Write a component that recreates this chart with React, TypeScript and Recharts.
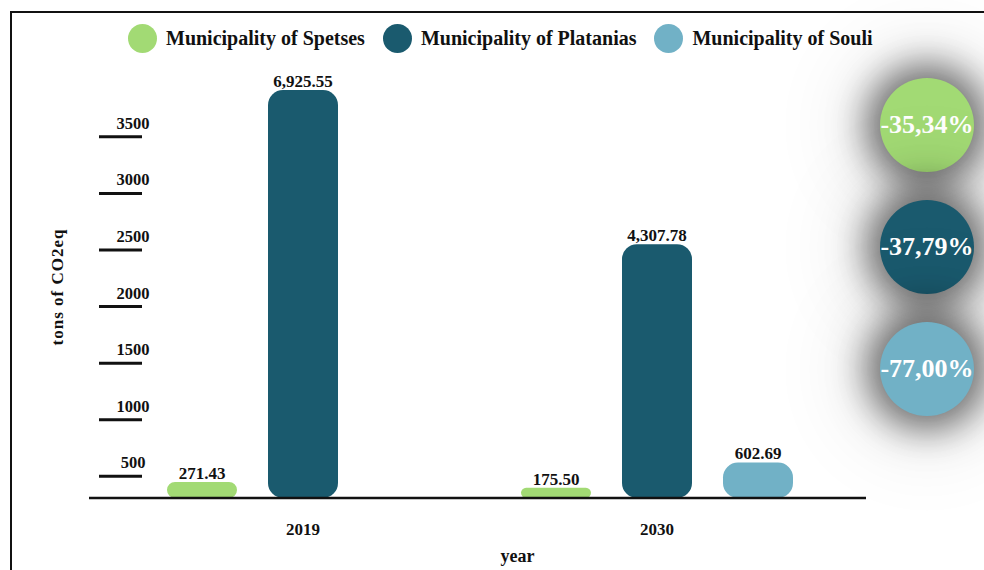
import { Bar, BarChart, XAxis, YAxis, LabelList, Label } from "recharts"

// emissions per municipality, tons of CO2eq
const years = ["2019", "2030"]
const spetses = [271.43, 175.5]
const platanias = [6925.55, 4307.78]
const souli: (number | null)[] = [null, 602.69]

const municipalities = ["Municipality of Spetses", "Municipality of Platanias", "Municipality of Souli"]
const changeLabels = ["-35,34%", "-37,79%", "-77,00%"]
const scaleTicks = [500, 1000, 1500, 2000, 2500, 3000, 3500]

const colors = ["#a2da74", "#1a5a6e", "#71b1c6"]
const serif = "'Liberation Serif', 'Times New Roman', serif"
const ink = "#111"

const rows = years.map((year, i) => ({
  year,
  spetses: spetses[i],
  platanias: platanias[i],
  souli: souli[i]
}))

const fmt = (v: any) =>
  v == null ? "" : Number(v).toLocaleString("en-US", { minimumFractionDigits: 2, maximumFractionDigits: 2 })

/* ---------- left scale: short rule with the number sitting on it ---------- */

function ScaleTick({ y, payload }: any) {
  return (
    <g>
      <line x1={99} x2={142} y1={y} y2={y} stroke={ink} strokeWidth={3} />
      <text x={133} y={y - 8} textAnchor="middle" fontFamily={serif} fontWeight="bold" fontSize={16.5} fill={ink}>
        {payload.value}
      </text>
    </g>
  )
}

function YearTick({ x, y, payload }: any) {
  return (
    <text x={x} y={y + 29} textAnchor="middle" fontFamily={serif} fontWeight="bold" fontSize={17} fill={ink}>
      {payload.value}
    </text>
  )
}

/* ---------- legend across the top ---------- */

function TopLegend() {
  return (
    <div
      style={{
        position: "absolute",
        top: 24,
        left: 128,
        display: "flex",
        alignItems: "center",
        fontFamily: serif,
        fontWeight: "bold",
        fontSize: 20,
        color: ink
      }}
    >
      {municipalities.map((name, i) => (
        <div key={name} style={{ display: "flex", alignItems: "center", marginRight: 18 }}>
          <span
            style={{
              width: 29,
              height: 29,
              borderRadius: "50%",
              background: colors[i],
              marginRight: 9,
              display: "inline-block"
            }}
          />
          <span>{name}</span>
        </div>
      ))}
    </div>
  )
}

/* ---------- change badges on the right ---------- */

function ChangeBadges() {
  return (
    <div
      style={{
        position: "absolute",
        top: 78,
        left: 880,
        display: "flex",
        flexDirection: "column",
        gap: 28
      }}
    >
      {changeLabels.map((txt, i) => (
        <div
          key={txt}
          style={{
            width: 94,
            height: 94,
            borderRadius: "50%",
            background: colors[i],
            boxShadow: "0 0 36px 14px rgba(0,0,0,0.55), 0 0 80px 40px rgba(0,0,0,0.07)",
            display: "flex",
            alignItems: "center",
            justifyContent: "center",
            color: "#fff",
            fontFamily: serif,
            fontWeight: "bold",
            fontSize: 26,
            whiteSpace: "nowrap"
          }}
        >
          {txt}
        </div>
      ))}
    </div>
  )
}

export default function App() {
  return (
    <div
      style={{
        position: "fixed",
        top: 0,
        left: 0,
        width: 984,
        height: 570,
        background: "#fff",
        overflow: "hidden"
      }}
    >
      <div
        style={{
          position: "absolute",
          top: 11,
          left: 10,
          width: 1100,
          height: 700,
          border: `2px solid ${ink}`
        }}
      />
      <BarChart
        width={984}
        height={570}
        data={rows}
        margin={{ top: 90, right: 118, bottom: 42, left: 9 }}
        barSize={70}
        barGap={31}
      >
        <XAxis
          dataKey="year"
          height={30}
          padding={{ left: 37, right: 32 }}
          axisLine={{ stroke: ink, strokeWidth: 2.5 }}
          tickLine={false}
          tick={<YearTick />}
        >
          <Label
            value="year"
            position="bottom"
            offset={21}
            dx={40}
            style={{ fontFamily: serif, fontWeight: "bold", fontSize: 18, fill: ink }}
          />
        </XAxis>
        <YAxis
          yAxisId="scale"
          type="number"
          width={80}
          domain={[308, 3914]}
          allowDataOverflow
          ticks={scaleTicks}
          axisLine={false}
          tickLine={false}
          tick={<ScaleTick />}
        />
        <YAxis yAxisId="bars" type="number" hide domain={[0, Math.max(...platanias)]} allowDataOverflow />
        {(["spetses", "platanias", "souli"] as const).map((key, i) => (
          <Bar
            key={key}
            yAxisId="bars"
            dataKey={key}
            name={municipalities[i]}
            fill={colors[i]}
            radius={15}
            isAnimationActive={false}
          >
            <LabelList
              dataKey={key}
              position="top"
              offset={3}
              formatter={fmt}
              style={{ fontFamily: serif, fontWeight: "bold", fontSize: 17, fill: ink }}
            />
          </Bar>
        ))}
      </BarChart>
      {/* unit title, rotated along the left scale */}
      <div
        style={{
          position: "absolute",
          left: 58,
          top: 287,
          transform: "translate(-50%, -50%) rotate(-90deg)",
          whiteSpace: "nowrap",
          fontFamily: serif,
          fontWeight: "bold",
          fontSize: 17,
          letterSpacing: 1,
          color: ink
        }}
      >
        tons of CO2eq
      </div>
      <TopLegend />
      <ChangeBadges />
    </div>
  )
}
